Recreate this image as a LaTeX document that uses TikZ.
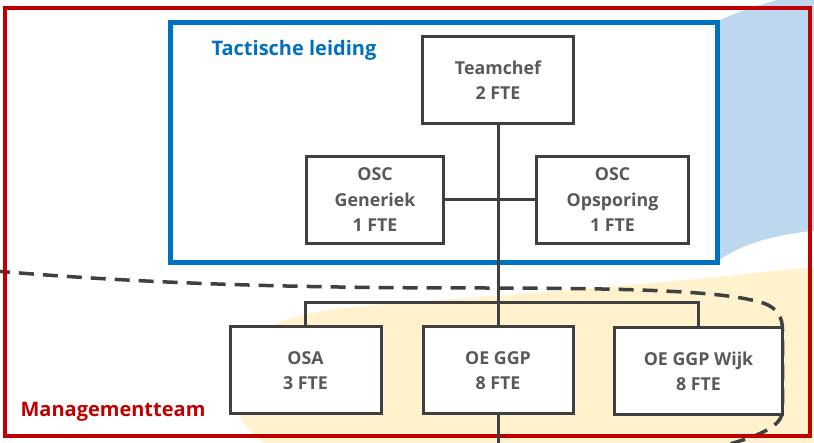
\documentclass[tikz,border=0pt]{standalone}
\usepackage{fontspec}
\setmainfont{Open Sans}
\usepackage{tikz}
\usetikzlibrary{positioning, calc}
\definecolor{boxgray}{RGB}{64,64,64}
\definecolor{textgray}{RGB}{89,89,89}
\definecolor{tactblue}{RGB}{0,112,192}
\definecolor{mtred}{RGB}{192,0,0}
\definecolor{skyblue}{RGB}{189,215,238}
\definecolor{sandbeige}{RGB}{255,242,204}

\begin{document}
\begin{tikzpicture}[
    x=1pt, y=-1pt,
    unit/.style={rectangle, draw=boxgray, line width=3pt, fill=white, text=textgray, font=\fontsize{17.8}{25.5}\selectfont\bfseries, align=center, minimum height=87pt, inner sep=0pt},
    link/.style={draw=boxgray, line width=3pt},
    teamlabel/.style={font=\fontsize{20}{22}\selectfont\bfseries, inner sep=0pt}
]
    \useasboundingbox (0,0) rectangle (814,443);

    % background areas
    \fill[sandbeige] (275,450) .. controls (240,430) and (225,400) .. (240,360)
        .. controls (255,320) and (300,310) .. (400,303)
        .. controls (550,292) and (700,280) .. (820,266) -- (820,450) -- cycle;
    \fill[skyblue] (716,22) .. controls (740,10) and (770,2) .. (795,-5) -- (820,-5)
        -- (820,230) .. controls (770,235) and (740,245) .. (716,262) -- cycle;

    \draw[boxgray, line width=3.5pt, dash pattern=on 15pt off 9pt]
        (-5,271) .. controls (150,284) and (300,288) .. (480,288)
        .. controls (650,288) and (728,292) .. (763,303)
        .. controls (778,308) and (782.5,318) .. (782.5,330) -- (782.5,410)
        .. controls (782.5,425) and (765,435) .. (715,448);

    \draw[mtred, line width=4pt] (5,8) rectangle (810,436);
    \draw[tactblue, line width=5pt] (170.5,22.5) rectangle (717.5,262.5);

    \node[teamlabel, text=tactblue] (tactlabel) at (294,50) {Tactische leiding};
    \node[teamlabel, text=mtred] (mtlabel) at (113,412) {Managementteam};

    \node[unit, minimum width=151pt] (chef) at (498,80) {Teamchef\\2 FTE};
    \node[unit, minimum width=137pt] (oscg) at (375,200) {OSC\\Generiek\\1 FTE};
    \node[unit, minimum width=152pt] (osco) at (612.5,200) {OSC\\Opsporing\\1 FTE};

    \node[unit, minimum width=151pt] (osa) at (305.5,370.5) {OSA\\3 FTE};
    \node[unit, minimum width=150pt] (oeggp) at (498,370.5) {OE GGP\\8 FTE};
    \node[unit, minimum width=168pt] (wijk) at (698.5,371.5) {OE GGP Wijk\\8 FTE};

    \coordinate (split) at (498,303);
    \coordinate (down) at (498,450);

    \draw[link] (oscg.east) -- (osco.west);
    \draw[link] (osa.north) |- (split) -| (wijk.north);
    \draw[link] (chef.south) -- (oeggp.north);
    \draw[link] (oeggp.south) -- (down);
\end{tikzpicture}
\end{document}
